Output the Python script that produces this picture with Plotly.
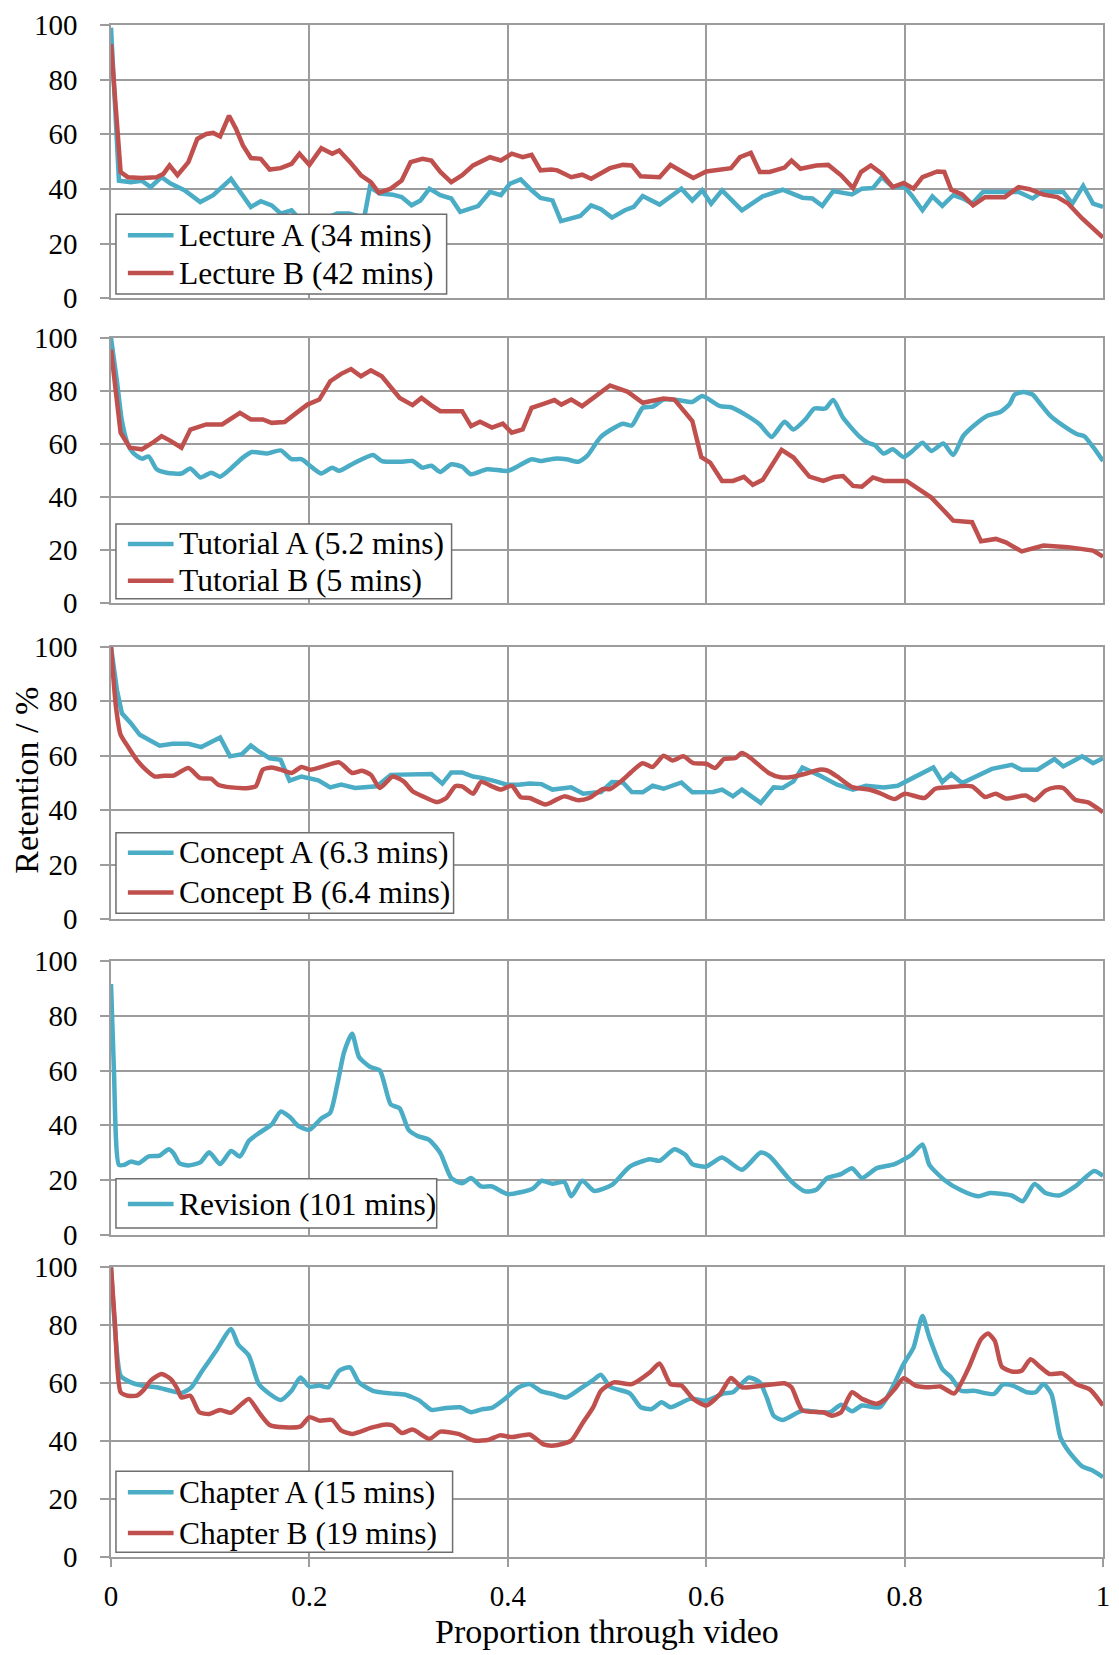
import plotly.graph_objects as go
from plotly.subplots import make_subplots

# ---------------- data (proportion through video, retention %) ----------------
lecture_a_x = [0, 0.008, 0.02, 0.031, 0.04, 0.051, 0.06, 0.074, 0.09, 0.103, 0.121, 0.132, 0.141, 0.151, 0.162, 0.171, 0.182,
               0.19, 0.205, 0.215, 0.228, 0.24, 0.25, 0.255, 0.261, 0.271, 0.284, 0.293, 0.303, 0.312, 0.321, 0.332, 0.343,
               0.352, 0.37, 0.382, 0.393, 0.402, 0.413, 0.424, 0.433, 0.445, 0.4536, 0.473, 0.484, 0.494, 0.505, 0.518,
               0.527, 0.536, 0.553, 0.575, 0.586, 0.596, 0.605, 0.616, 0.636, 0.657, 0.677, 0.697, 0.707, 0.717, 0.728,
               0.747, 0.757, 0.768, 0.777, 0.788, 0.80, 0.807, 0.818, 0.828, 0.838, 0.849, 0.859, 0.868, 0.879, 0.915,
               0.929, 0.938, 0.96, 0.969, 0.98, 0.99, 1.0]
lecture_a_y = [99, 43, 42.5, 43, 40.7, 44.3, 42, 39.5, 35.2, 37.7, 43.7, 38.3, 33.4, 35.5, 34, 31, 32.2,
               29, 28, 29, 31, 31, 30, 29, 40.7, 38.3, 37.9, 37, 34, 35.8, 40.1, 37.7, 36.5,
               31.6, 33.7, 38.9, 37.7, 41.9, 43.5, 39.5, 36.7, 35.8, 28.2, 30.1, 34, 32.6, 29.5, 32.2,
               33.4, 37.4, 34.3, 40.1, 35.8, 39.5, 34.6, 39.5, 32.2, 37.3, 39.7, 36.8, 36.5, 33.8, 39.2,
               38, 40.1, 40.3, 44.3, 40.7, 40.7, 37.7, 32.2, 37.3, 33.8, 37.7, 36.5, 34.6, 38.9, 38.9,
               36.5, 38.9, 38.9, 34.6, 41.1, 34.6, 33.4]

lecture_b_x = [0, 0.006, 0.0097, 0.017, 0.031, 0.046, 0.053, 0.059, 0.067, 0.078, 0.087, 0.096, 0.103, 0.11, 0.119, 0.126,
               0.133, 0.141, 0.151, 0.16, 0.171, 0.182, 0.19, 0.2, 0.212, 0.223, 0.23, 0.241, 0.252, 0.262, 0.27, 0.282,
               0.293, 0.302, 0.314, 0.323, 0.332, 0.343, 0.354, 0.365, 0.382, 0.393, 0.404, 0.415, 0.424, 0.433, 0.444,
               0.45, 0.464, 0.475, 0.484, 0.503, 0.516, 0.525, 0.534, 0.553, 0.564, 0.575, 0.587, 0.6, 0.625, 0.634,
               0.645, 0.654, 0.664, 0.679, 0.686, 0.695, 0.711, 0.723, 0.736, 0.748, 0.756, 0.766, 0.777, 0.788, 0.799,
               0.809, 0.818, 0.833, 0.84, 0.847, 0.858, 0.869, 0.881, 0.901, 0.915, 0.926, 0.94, 0.954, 0.965, 0.979, 1.0]
lecture_b_y = [93, 60.8, 46.2, 44.3, 44, 44.3, 45.6, 48.6, 45, 49.8, 58.3, 60.1, 60.5, 59.2, 66.8, 62,
               55.9, 51.3, 51, 47.1, 47.6, 49.2, 52.9, 48.8, 54.9, 52.9, 54.1, 49.8, 45, 42.5, 38.6, 40.1,
               43.1, 49.8, 51, 50.4, 46.2, 42.5, 45, 48.6, 51.6, 50.4, 52.9, 51.6, 52.5, 46.8, 47.1,
               46.8, 44.3, 45.2, 43.7, 47.6, 48.8, 48.6, 44.6, 44.3, 48.8, 46.5, 44, 46.4, 47.6, 51.6,
               53.2, 46.2, 46.2, 47.8, 50.4, 47.4, 48.6, 48.8, 45, 40.3, 46.2, 48.6, 45.6, 40.7, 42.2,
               40.1, 44.3, 46.4, 46.2, 39.7, 38, 34, 37, 37, 40.7, 39.9, 37.9, 37, 34.6, 29.2, 22.2]

tutorial_a_x = [0, 0.006, 0.011, 0.017, 0.022, 0.031, 0.038, 0.046, 0.056, 0.071, 0.08, 0.09, 0.101, 0.11, 0.121, 0.132,
                0.142, 0.157, 0.171, 0.182, 0.192, 0.203, 0.212, 0.223, 0.23, 0.243, 0.264, 0.273, 0.291, 0.304, 0.314,
                0.323, 0.332, 0.343, 0.354, 0.363, 0.379, 0.4, 0.411, 0.424, 0.433, 0.447, 0.459, 0.471, 0.48, 0.493,
                0.503, 0.516, 0.525, 0.536, 0.546, 0.557, 0.571, 0.586, 0.596, 0.614, 0.625, 0.639, 0.654, 0.666, 0.679,
                0.688, 0.7, 0.709, 0.72, 0.728, 0.738, 0.754, 0.763, 0.77, 0.779, 0.788, 0.799, 0.808, 0.818, 0.827,
                0.839, 0.849, 0.859, 0.87, 0.883, 0.897, 0.906, 0.911, 0.92, 0.929, 0.936, 0.947, 0.958, 0.974, 0.981,
                0.99, 1.0]
tutorial_a_y = [100, 83.7, 68.7, 59.9, 56.8, 54.5, 55.3, 50.5, 49.2, 48.9, 50.8, 47.4, 49.2, 47.7, 50.8, 54.6,
                57, 56.4, 57.6, 54.3, 54.3, 51.1, 48.9, 51.1, 49.9, 52.4, 55.9, 53.6, 53.3, 53.6, 51.1,
                51.8, 49.5, 52.4, 51.4, 48.6, 50.5, 49.9, 51.8, 54.3, 53.6, 54.5, 54.3, 53.3, 55.5, 62.4,
                65.2, 67.7, 67, 73.7, 74.1, 76.8, 76.6, 75.9, 78.1, 74.3, 73.9, 71.2, 67.4, 62.7, 68.4,
                65.5, 69.3, 73.4, 73.4, 76.6, 69.9, 63, 60.5, 59.6, 56.4, 58, 55.1, 57.4, 60.5, 57.4,
                60.2, 55.9, 63, 67, 70.6, 72.2, 75.2, 78.7, 79.6, 78.7, 75.6, 70.6, 67.4, 63.7, 63,
                58.9, 53.6]

tutorial_b_x = [0, 0.0097, 0.019, 0.031, 0.042, 0.051, 0.06, 0.071, 0.08, 0.096, 0.112, 0.123, 0.13, 0.141, 0.153, 0.162,
                0.175, 0.185, 0.198, 0.21, 0.221, 0.232, 0.242, 0.252, 0.262, 0.273, 0.282, 0.291, 0.304, 0.313, 0.323,
                0.332, 0.354, 0.363, 0.372, 0.384, 0.395, 0.404, 0.415, 0.424, 0.436, 0.447, 0.454, 0.464, 0.475, 0.489,
                0.503, 0.521, 0.536, 0.557, 0.568, 0.586, 0.595, 0.604, 0.616, 0.627, 0.638, 0.647, 0.657, 0.676, 0.688,
                0.704, 0.718, 0.729, 0.738, 0.748, 0.757, 0.768, 0.779, 0.802, 0.815, 0.827, 0.838, 0.849, 0.868, 0.877,
                0.892, 0.902, 0.918, 0.94, 0.965, 0.99, 1.0]
tutorial_b_y = [95.6, 64.3, 58.6, 58, 60.5, 63, 61.2, 58.6, 65.5, 67.4, 67.4, 69.9, 71.8, 69.3, 69.3, 68,
                68.3, 71.2, 74.9, 76.8, 83.7, 86.5, 88.3, 85.6, 87.8, 85.6, 81.2, 77.4, 74.7, 77.4, 74.6,
                72.4, 72.4, 66.8, 68.4, 66.2, 67.7, 64.3, 65.5, 73.7, 75.2, 76.6, 74.9, 76.8, 74.3, 78.1,
                82.1, 79.7, 75.6, 77.2, 76.8, 68.7, 55.1, 53, 46.1, 46.1, 47.6, 44.6, 46.5, 57.8, 54.9,
                47.7, 46.1, 47.6, 47.9, 44.2, 43.9, 47.4, 46.1, 46.1, 43, 39.8, 35.5, 31.1, 30.5, 23.3,
                24.2, 22.9, 19.5, 21.7, 21.1, 19.8, 17.5]

concept_a_x = [0, 0.006, 0.011, 0.02, 0.029, 0.038, 0.049, 0.062, 0.078, 0.091, 0.11, 0.12, 0.132, 0.141, 0.149, 0.16,
               0.171, 0.18, 0.192, 0.209, 0.221, 0.232, 0.246, 0.268, 0.282, 0.323, 0.334, 0.343, 0.354, 0.365, 0.375,
               0.388, 0.399, 0.411, 0.422, 0.434, 0.445, 0.464, 0.476, 0.494, 0.505, 0.516, 0.525, 0.536, 0.546, 0.557,
               0.575, 0.586, 0.607, 0.616, 0.627, 0.636, 0.655, 0.668, 0.677, 0.688, 0.697, 0.713, 0.732, 0.748, 0.761,
               0.779, 0.793, 0.808, 0.829, 0.838, 0.847, 0.858, 0.872, 0.888, 0.908, 0.918, 0.934, 0.951, 0.96, 0.979,
               0.99, 1.0]
concept_a_y = [100, 84.1, 75.6, 72, 67.7, 66.1, 63.7, 64.4, 64.4, 63.2, 66.7, 59.8, 60.6, 63.8, 61.6, 59.1,
               58.5, 50.9, 52.4, 51, 48.4, 49.4, 48.2, 48.8, 53, 53.3, 49.8, 53.9, 53.9, 52.4, 51.8,
               50.6, 49.4, 49.4, 49.8, 49.6, 47.6, 48.4, 46.1, 46.7, 50.4, 50.2, 46.7, 46.6, 49, 47.9,
               50.2, 46.6, 46.7, 47.6, 45.1, 47.6, 42.7, 48.4, 48.2, 50.6, 55.7, 53, 49.4, 47.6, 49,
               48.4, 49, 51.8, 55.7, 50.4, 53.3, 50, 52.4, 55.2, 56.7, 54.9, 54.9, 58.8, 56.1, 59.8,
               57.3, 59.1]

concept_b_x = [0, 0.005, 0.0097, 0.017, 0.026, 0.035, 0.044, 0.054, 0.063, 0.078, 0.09, 0.101, 0.108, 0.121, 0.139, 0.146,
               0.153, 0.162, 0.171, 0.182, 0.192, 0.201, 0.214, 0.23, 0.243, 0.253, 0.262, 0.271, 0.284, 0.295, 0.304,
               0.318, 0.329, 0.338, 0.347, 0.354, 0.365, 0.373, 0.384, 0.393, 0.404, 0.413, 0.422, 0.438, 0.449, 0.457,
               0.471, 0.482, 0.496, 0.503, 0.516, 0.527, 0.536, 0.546, 0.557, 0.566, 0.577, 0.587, 0.6, 0.609, 0.618,
               0.629, 0.636, 0.645, 0.663, 0.675, 0.686, 0.7, 0.714, 0.722, 0.732, 0.747, 0.764, 0.775, 0.79, 0.8,
               0.82, 0.831, 0.843, 0.868, 0.881, 0.892, 0.902, 0.922, 0.931, 0.942, 0.952, 0.96, 0.972, 0.985, 1.0]
concept_b_y = [100, 78, 67.7, 63.4, 58.5, 54.9, 52.4, 52.7, 52.7, 55.5, 51.8, 51.6, 49.4, 48.4, 48.2, 48.8,
               54.9, 55.7, 54.9, 53.7, 55.9, 54.9, 56.1, 57.6, 53.7, 54.5, 53, 48.2, 52.4, 50.6, 47,
               44.5, 43, 44.5, 48.8, 48.8, 46.1, 50.4, 48.8, 47.6, 49, 44.8, 44.5, 42.1, 43.9, 45.1,
               43.7, 44.5, 47.8, 47.8, 51.2, 54.9, 57.3, 55.9, 60, 58.3, 59.8, 57.3, 57.1, 55.5, 58.8,
               59.1, 61, 59.1, 53.7, 52.1, 52.2, 53.4, 54.9, 54.6, 52.4, 48.5, 47.6, 46.3, 44.1, 46.1,
               44.5, 47.9, 48.4, 48.8, 44.9, 46.1, 44.3, 45.4, 43.7, 47.2, 48.4, 48.2, 43.9, 42.9, 39.3]

revision_x = [0, 0.003, 0.008, 0.013, 0.02, 0.028, 0.038, 0.049, 0.058, 0.063, 0.069, 0.078, 0.09, 0.099, 0.11, 0.121,
              0.13, 0.139, 0.149, 0.162, 0.171, 0.18, 0.189, 0.2, 0.212, 0.221, 0.228, 0.235, 0.243, 0.25, 0.261,
              0.271, 0.282, 0.291, 0.3, 0.309, 0.321, 0.332, 0.343, 0.354, 0.363, 0.373, 0.384, 0.4, 0.425, 0.434,
              0.445, 0.457, 0.464, 0.475, 0.487, 0.505, 0.523, 0.543, 0.553, 0.568, 0.579, 0.586, 0.6, 0.616, 0.636,
              0.655, 0.664, 0.686, 0.7, 0.711, 0.722, 0.736, 0.747, 0.757, 0.772, 0.79, 0.807, 0.818, 0.825, 0.84,
              0.857, 0.874, 0.886, 0.908, 0.919, 0.931, 0.942, 0.956, 0.972, 0.991, 1.0]
revision_y = [91.7, 59.5, 25.5, 25.5, 26.7, 26.1, 28.6, 28.9, 31.2, 29.8, 26.1, 25.3, 26.4, 30.1, 25.8, 30.6,
              28.6, 34.3, 37.1, 40.3, 45, 43.1, 39.7, 38.3, 42.5, 44.6, 54.7, 66.8, 73.5, 65, 61.4,
              60.1, 47.6, 46.2, 38.3, 36.1, 34.6, 29.8, 20.7, 18.8, 20.7, 17.6, 17.6, 14.8, 16.8, 19.7,
              18.6, 19.2, 14, 19.7, 16, 18.2, 24.9, 27.6, 27, 31.2, 29.2, 25.8, 24.9, 28.2, 23.7,
              30, 28.6, 19.4, 15.8, 16.4, 20.7, 22.1, 24.3, 20.7, 24.3, 25.8, 29.2, 33, 25.5, 20,
              16.2, 14, 15.2, 14.3, 12.2, 18.5, 15.2, 14.3, 17.6, 23.3, 21.5]

chapter_a_x = [0, 0.005, 0.0097, 0.02, 0.031, 0.046, 0.06, 0.071, 0.081, 0.092, 0.106, 0.121, 0.128, 0.139, 0.149, 0.16,
               0.171, 0.182, 0.191, 0.2, 0.21, 0.219, 0.23, 0.241, 0.25, 0.264, 0.282, 0.296, 0.311, 0.323, 0.336,
               0.352, 0.363, 0.375, 0.384, 0.397, 0.411, 0.422, 0.434, 0.445, 0.459, 0.475, 0.486, 0.494, 0.503, 0.523,
               0.534, 0.545, 0.555, 0.564, 0.584, 0.6, 0.618, 0.627, 0.643, 0.654, 0.661, 0.668, 0.677, 0.697, 0.714,
               0.725, 0.736, 0.747, 0.757, 0.775, 0.786, 0.799, 0.809, 0.818, 0.825, 0.838, 0.847, 0.857, 0.87, 0.89,
               0.899, 0.909, 0.923, 0.932, 0.94, 0.948, 0.957, 0.966, 0.979, 0.988, 1.0]
chapter_a_y = [100, 74.5, 62.5, 60.2, 59.1, 58.5, 57.3, 56.5, 58.5, 64.2, 71.1, 78.6, 73.4, 69.4, 59.6, 56.2,
               54.1, 57.3, 61.9, 58.7, 59.1, 58.5, 64.2, 65.4, 60.2, 57.3, 56.4, 56, 53.9, 50.7, 51.3,
               51.6, 49.9, 51, 51.4, 54.5, 58.5, 59.6, 57.1, 56.2, 55, 58.5, 61, 62.8, 58.7, 56.4,
               51.6, 51, 53.3, 51.6, 54.5, 53.9, 56.4, 56.8, 61.9, 60.2, 55, 48.7, 47.2, 50.5, 49.9,
               49.9, 52.5, 50.2, 52.2, 51.6, 57.3, 66.5, 72.2, 83.1, 75.7, 64.8, 61.9, 57.3, 57.3, 56.2,
               59.4, 59.1, 56.8, 56.8, 59.6, 56.2, 41.3, 36.1, 31.2, 30, 27.5]

chapter_b_x = [0, 0.004, 0.0097, 0.017, 0.026, 0.033, 0.04, 0.051, 0.06, 0.067, 0.071, 0.08, 0.089, 0.099, 0.11, 0.121,
               0.132, 0.139, 0.149, 0.16, 0.175, 0.191, 0.2, 0.21, 0.223, 0.232, 0.243, 0.261, 0.275, 0.284, 0.293,
               0.304, 0.321, 0.332, 0.35, 0.366, 0.381, 0.392, 0.404, 0.422, 0.436, 0.447, 0.464, 0.475, 0.486, 0.494,
               0.507, 0.525, 0.543, 0.553, 0.564, 0.575, 0.587, 0.6, 0.614, 0.625, 0.636, 0.657, 0.679, 0.686, 0.697,
               0.718, 0.727, 0.736, 0.747, 0.757, 0.772, 0.781, 0.79, 0.799, 0.811, 0.825, 0.836, 0.85, 0.864, 0.877,
               0.884, 0.891, 0.898, 0.909, 0.918, 0.927, 0.937, 0.946, 0.959, 0.973, 0.987, 1.0]
chapter_b_y = [100, 80.3, 56.8, 55.6, 55.6, 57.6, 60.8, 63.1, 61.4, 57.9, 55, 55.6, 49.9, 49.3, 50.7, 49.7,
               52.8, 54.5, 49.9, 45.5, 44.7, 45, 48.2, 47, 47.2, 43.6, 42.4, 44.4, 45.6, 45.3, 42.7,
               43.9, 40.7, 43.2, 42.4, 40.1, 40.4, 41.9, 41.3, 42.2, 38.8, 38.4, 40.1, 45.9, 51.6, 57.3,
               60.2, 59.6, 63.6, 66.7, 59.6, 59.1, 54.5, 52.2, 56.2, 61.7, 58.5, 59.1, 59.9, 58.5, 50.5,
               49.9, 48.7, 49.9, 56.8, 54.5, 52.8, 54.5, 57.9, 61.6, 59.1, 58.5, 58.8, 56.4, 64.8, 75.1,
               77.1, 74.5, 65.6, 63.9, 64.2, 68.2, 65.4, 63.1, 63.3, 59.6, 57.7, 52.2]

x_ticks = [0, 0.2, 0.4, 0.6, 0.8, 1]
y_ticks = [0, 20, 40, 60, 80, 100]

# ---------------- styling ----------------
CYAN = "#4BACC6"
RED = "#C0504D"
GRID = "#9c9c9c"
LEGEND_BORDER = "#6e6e6e"
FONT = "Liberation Serif"

# (panel row, x list, y list, name, colour, line shape)
series = [
    (1, lecture_a_x, lecture_a_y, "Lecture A (34 mins)", CYAN, "linear"),
    (1, lecture_b_x, lecture_b_y, "Lecture B (42 mins)", RED, "linear"),
    (2, tutorial_a_x, tutorial_a_y, "Tutorial A (5.2 mins)", CYAN, "spline"),
    (2, tutorial_b_x, tutorial_b_y, "Tutorial B (5 mins)", RED, "linear"),
    (3, concept_a_x, concept_a_y, "Concept A (6.3 mins)", CYAN, "linear"),
    (3, concept_b_x, concept_b_y, "Concept B (6.4 mins)", RED, "spline"),
    (4, revision_x, revision_y, "Revision (101 mins)", CYAN, "spline"),
    (5, chapter_a_x, chapter_a_y, "Chapter A (15 mins)", CYAN, "spline"),
    (5, chapter_b_x, chapter_b_y, "Chapter B (19 mins)", RED, "spline"),
]

W, H = 1119, 1655
ML, MR, MT, MB = 111, 9, 19, 98
plot_w = W - ML - MR
plot_h = H - MT - MB

# panel pixel extents (top, bottom)
panels_px = [(19, 293.3), (333.3, 599.3), (643.3, 916.7), (959, 1233.3), (1266, 1556.7)]
# legend boxes in pixels: (left, top, right, bottom, [row centre y ...])
legend_boxes = [
    (116, 209, 449, 289, [230, 268]),
    (116, 520, 454, 595, [540, 577]),
    (116, 830, 456, 910.7, [850, 890]),
    (116, 1177.3, 439, 1226.7, [1202.7]),
    (116, 1471, 455, 1552.3, [1492, 1533]),
]
SAMPLE_X0, SAMPLE_X1, TEXT_X = 128, 174, 177


def px_x(p):
    return (p - ML) / plot_w


def px_y(p):
    return (H - MB - p) / plot_h


fig = make_subplots(rows=5, cols=1, shared_xaxes=False)

for row, xs, ys, name, col, shape in series:
    kw = dict(shape=shape)
    if shape == "spline":
        kw["smoothing"] = 0.6
    fig.add_trace(
        go.Scatter(x=xs, y=ys, mode="lines", name=name,
                   line=dict(color=col, width=4.5, **kw), showlegend=False),
        row=row, col=1,
    )

layout_updates = {}
for i, (top, bot) in enumerate(panels_px, start=1):
    sfx = "" if i == 1 else str(i)
    layout_updates[f"yaxis{sfx}"] = dict(
        domain=[px_y(bot), px_y(top)], range=[0, 100], tickvals=y_ticks,
        showgrid=True, gridcolor=GRID, gridwidth=1.5,
        showline=True, mirror=True, linecolor=GRID, linewidth=1.5,
        ticks="outside", ticklen=9, tickcolor=GRID, tickwidth=1.5,
        ticklabelstandoff=17,
        tickfont=dict(family=FONT, size=29, color="black"),
        zeroline=False, fixedrange=True,
    )
    xa = dict(
        range=[0, 1], tickvals=x_ticks,
        showgrid=True, gridcolor=GRID, gridwidth=1.5,
        showline=True, mirror=True, linecolor=GRID, linewidth=1.5,
        zeroline=False, showticklabels=(i == 5),
        tickfont=dict(family=FONT, size=29, color="black"),
    )
    if i == 5:
        xa.update(ticks="outside", ticklen=9, tickcolor=GRID, tickwidth=1.5,
                  ticklabelstandoff=4,
                  title=dict(text="Proportion through video",
                             font=dict(family=FONT, size=34, color="black"), standoff=8))
    layout_updates[f"xaxis{sfx}"] = xa

fig.update_layout(**layout_updates)

# legends, one box per panel, drawn as boxes with sample lines and text
shapes = []
annotations = []
row_traces = {}
for row, xs, ys, name, col, shape in series:
    row_traces.setdefault(row, []).append((name, col))

for i, (l, t, r, b, centres) in enumerate(legend_boxes, start=1):
    shapes.append(dict(type="rect", xref="paper", yref="paper",
                       x0=px_x(l), x1=px_x(r), y0=px_y(b), y1=px_y(t),
                       fillcolor="white", line=dict(color=LEGEND_BORDER, width=1.5),
                       layer="above"))
    for (name, col), cy in zip(row_traces[i], centres):
        shapes.append(dict(type="line", xref="paper", yref="paper",
                           x0=px_x(SAMPLE_X0), x1=px_x(SAMPLE_X1), y0=px_y(cy), y1=px_y(cy),
                           line=dict(color=col, width=4.5), layer="above"))
        annotations.append(dict(text=name, xref="paper", yref="paper",
                                x=px_x(TEXT_X), y=px_y(cy), xanchor="left", yanchor="middle",
                                showarrow=False,
                                font=dict(family=FONT, size=31.5, color="black")))

annotations.append(dict(
    text="Retention / %", textangle=-90,
    xref="paper", yref="paper", x=px_x(25), y=px_y(777),
    xanchor="center", yanchor="middle", showarrow=False,
    font=dict(family=FONT, size=34, color="black"),
))

fig.update_layout(
    width=W, height=H,
    margin=dict(l=ML, r=MR, t=MT, b=MB),
    paper_bgcolor="white", plot_bgcolor="white",
    font=dict(family=FONT, color="black"),
    shapes=shapes, annotations=annotations,
    showlegend=False,
)

fig.write_html("out.html")
